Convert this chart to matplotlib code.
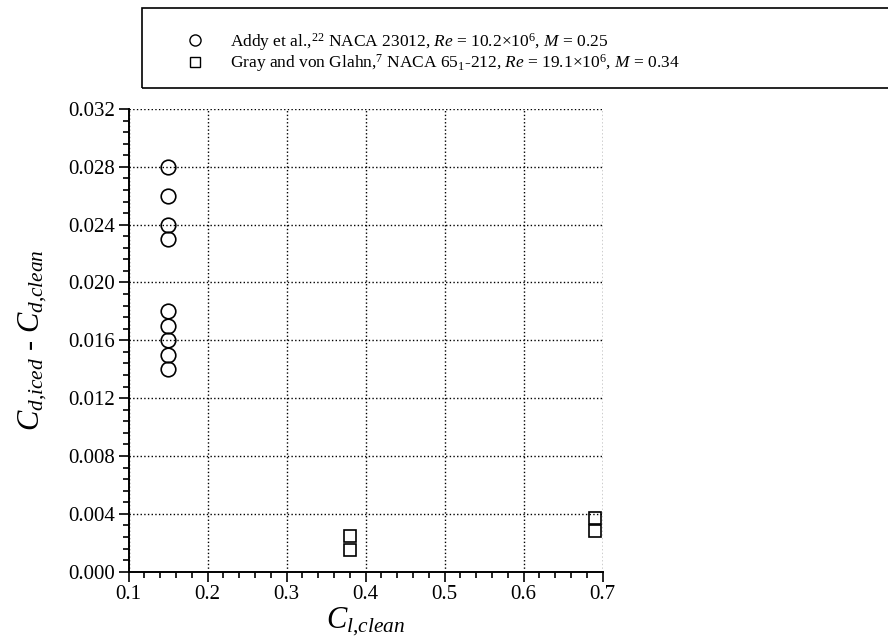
import matplotlib
matplotlib.use("Agg")
from matplotlib import pyplot as plt
from matplotlib.patches import Rectangle
from matplotlib.ticker import MultipleLocator, FormatStrFormatter

plt.rcParams['font.family'] = ['Liberation Serif', 'DejaVu Serif']
plt.rcParams['mathtext.fontset'] = 'custom'
plt.rcParams['mathtext.rm'] = 'Liberation Serif'
plt.rcParams['mathtext.it'] = 'Liberation Serif:italic'
plt.rcParams['mathtext.bf'] = 'Liberation Serif:bold'

# Addy et al., NACA 23012
addy_cl = [0.15, 0.15, 0.15, 0.15, 0.15, 0.15, 0.15, 0.15, 0.15]
addy_dcd = [0.028, 0.026, 0.024, 0.023, 0.018, 0.017, 0.016, 0.015, 0.014]

# Gray and von Glahn, NACA 65_1-212
gray_cl = [0.38, 0.38, 0.69, 0.69]
gray_dcd = [0.0025, 0.0015, 0.0037, 0.0028]

labels = [r"Addy et al.,$^{22}$ NACA 23012, $Re$ = 10.2$\times$10$^{6}$, $M$ = 0.25",
          r"Gray and von Glahn,$^{7}$ NACA 65$_{1}$-212, $Re$ = 19.1$\times$10$^{6}$, $M$ = 0.34"]

fig = plt.figure(figsize=(8.88, 6.38), dpi=100)
ax = fig.add_axes([0.1449, 0.1039, 0.5338, 0.7253])

ax.plot(addy_cl, addy_dcd, 'o', ms=10.5, mfc='none', mec='black', mew=1.2, clip_on=False, zorder=3)
ax.plot(gray_cl, gray_dcd, 's', ms=8, mfc='none', mec='black', mew=1.2, clip_on=False, zorder=3)

ax.set_xlim(0.1, 0.7)
ax.set_ylim(0.0, 0.032)
ax.xaxis.set_major_locator(MultipleLocator(0.1))
ax.xaxis.set_minor_locator(MultipleLocator(0.02))
ax.yaxis.set_major_locator(MultipleLocator(0.004))
ax.yaxis.set_minor_locator(MultipleLocator(0.0008))
ax.xaxis.set_major_formatter(FormatStrFormatter('%.1f'))
ax.yaxis.set_major_formatter(FormatStrFormatter('%.3f'))

ax.grid(True, which='major', linestyle=':', color='black', linewidth=1.0)
for s in ['top', 'right']:
    ax.spines[s].set_visible(False)
for s in ['left', 'bottom']:
    ax.spines[s].set_linewidth(1.4)
ax.tick_params(which='major', direction='out', length=7.5, width=1.2, labelsize=15, pad=2)
ax.tick_params(which='minor', direction='out', length=4.5, width=1.2)

ax.set_xlabel(r"$C_{l{,}clean}$", fontsize=22, labelpad=1)
ax.set_ylabel(r"$C_{d{,}iced}$ - $C_{d{,}clean}$", fontsize=22, labelpad=14)

# legend box across the top
fig.patches.append(Rectangle((142 / 888, 1 - 88 / 638), 760 / 888, 80 / 638,
                             transform=fig.transFigure, fill=False, edgecolor='black', linewidth=1.2))
h1, = ax.plot([], [], 'o', ms=8, mfc='none', mec='black', mew=1.0)
h2, = ax.plot([], [], 's', ms=6.5, mfc='none', mec='black', mew=1.0)
fig.legend([h1, h2], labels, loc='upper left', bbox_to_anchor=(169 / 888, 1 - 22 / 638),
           frameon=False, fontsize=12.5, handlelength=2.0, handletextpad=1.0,
           labelspacing=0.0, borderpad=0)

plt.savefig("out.png", dpi=100)
